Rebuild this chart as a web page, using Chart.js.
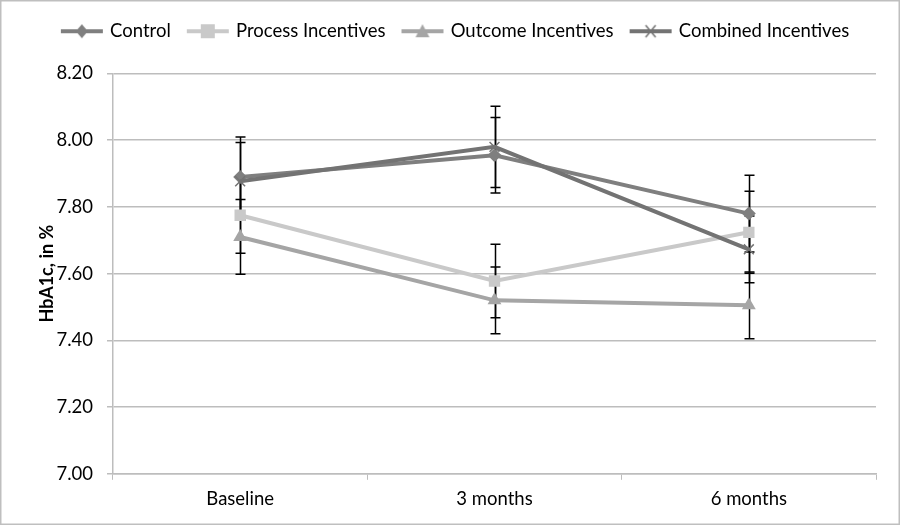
<!DOCTYPE html>
<html>
<head>
<meta charset="utf-8">
<script src="https://cdn.jsdelivr.net/npm/chart.js@4/dist/chart.umd.min.js"></script>
<style>
html,body{margin:0;padding:0;background:#fff;}
#wrap{width:900px;height:526px;position:relative;}
</style>
</head>
<body>
<div id="wrap"><canvas id="c" width="900" height="526"></canvas></div>
<script>
const categories = ['Baseline', '3 months', '6 months'];
const seriesNames = ['Control', 'Process Incentives', 'Outcome Incentives', 'Combined Incentives'];
const control = [7.89, 7.955, 7.78];
const controlErr = [0.12, 0.113, 0.115];
const processInc = [7.775, 7.578, 7.724];
const processErr = [0.114, 0.11, 0.123];
const outcomeInc = [7.71, 7.52, 7.505];
const outcomeErr = [0.112, 0.10, 0.10];
const combinedInc = [7.877, 7.98, 7.673];
const combinedErr = [0.116, 0.122, 0.10];
const yTicks = [7.00, 7.20, 7.40, 7.60, 7.80, 8.00, 8.20];

const FONT = 'Lato, "Open Sans", sans-serif';
const FS = 18.5;
const colors = ['#7f7f7f', '#c9c9c9', '#a5a5a5', '#737373'];
const styles = ['rectRot', 'rect', 'triangle', 'crossRot'];
const radii = [7, 8, 8, 7];

function legendIcon(i) {
  const w = 44, h = 18;
  const cv = document.createElement('canvas');
  cv.width = w; cv.height = h;
  const c = cv.getContext('2d');
  c.strokeStyle = colors[i];
  c.lineWidth = 4;
  c.beginPath(); c.moveTo(1, h / 2); c.lineTo(w - 1, h / 2); c.stroke();
  const cx = w / 2, cy = h / 2;
  c.fillStyle = colors[i];
  if (i === 0) {
    c.beginPath(); c.moveTo(cx, cy - 7); c.lineTo(cx + 6, cy); c.lineTo(cx, cy + 7); c.lineTo(cx - 6, cy); c.closePath(); c.fill();
  } else if (i === 1) {
    c.fillRect(cx - 7, cy - 7, 14, 14);
  } else if (i === 2) {
    c.beginPath(); c.moveTo(cx, cy - 7); c.lineTo(cx + 7, cy + 6); c.lineTo(cx - 7, cy + 6); c.closePath(); c.fill();
  } else {
    c.lineWidth = 1.5;
    c.beginPath(); c.moveTo(cx - 5, cy - 6); c.lineTo(cx + 5, cy + 6); c.moveTo(cx + 5, cy - 6); c.lineTo(cx - 5, cy + 6); c.stroke();
  }
  return cv;
}

const values = [control, processInc, outcomeInc, combinedInc];
const errs = [controlErr, processErr, outcomeErr, combinedErr];

const datasets = values.map((v, i) => ({
  label: seriesNames[i],
  data: v,
  errors: errs[i],
  borderColor: colors[i],
  backgroundColor: colors[i],
  borderWidth: 4,
  pointStyle: styles[i],
  pointRadius: radii[i],
  pointHoverRadius: radii[i],
  pointBorderWidth: i === 3 ? 1.5 : 0,
  pointBorderColor: colors[i],
  pointBackgroundColor: colors[i],
  legendIcon: legendIcon(i),
  tension: 0,
  order: 4 - i
}));

const bgPlugin = {
  id: 'bg',
  beforeDraw(chart) {
    const c = chart.ctx;
    c.save();
    c.fillStyle = '#fff';
    c.fillRect(0, 0, chart.width, chart.height);
    c.strokeStyle = '#bfbfbf';
    c.lineWidth = 1.5;
    c.strokeRect(0.75, 0.75, chart.width - 1.5, chart.height - 2.5);
    c.restore();
  }
};

const legendGap = {
  id: 'legendGap',
  beforeInit(chart) {
    const lg = chart.legend;
    if (!lg) return;
    const fit = lg.fit;
    lg.fit = function () { fit.call(this); this.height += 23; };
  }
};

const errPlugin = {
  id: 'errbars',
  beforeDatasetsDraw(chart) {
    const c = chart.ctx;
    const xs = chart.scales.x, ys = chart.scales.y;
    c.save();
    c.strokeStyle = '#000';
    c.lineWidth = 1.5;
    chart.data.datasets.forEach((ds) => {
      ds.data.forEach((v, j) => {
        const e = ds.errors[j];
        const x = Math.round(xs.getPixelForValue(j)) + 0.5;
        const yt = ys.getPixelForValue(v + e);
        const yb = ys.getPixelForValue(v - e);
        c.beginPath();
        c.moveTo(x, yt); c.lineTo(x, yb);
        c.moveTo(x - 5, yt); c.lineTo(x + 5, yt);
        c.moveTo(x - 5, yb); c.lineTo(x + 5, yb);
        c.stroke();
      });
    });
    c.restore();
  }
};

new Chart(document.getElementById('c'), {
  type: 'line',
  data: { labels: categories, datasets },
  options: {
    responsive: false,
    animation: false,
    devicePixelRatio: 1,
    layout: { padding: { left: 36, right: 24, top: 4, bottom: 8 } },
    plugins: {
      legend: {
        position: 'top',
        labels: {
          usePointStyle: true,
          pointStyleWidth: 38,
          padding: 18,
          color: '#000',
          font: { family: FONT, size: FS },
          generateLabels(chart) {
            return chart.data.datasets.map((ds, i) => ({
              text: ds.label,
              pointStyle: ds.legendIcon,
              fillStyle: ds.borderColor,
              strokeStyle: ds.borderColor,
              lineWidth: 0,
              hidden: false,
              datasetIndex: i,
              fontColor: '#000'
            }));
          }
        }
      },
      tooltip: { enabled: false }
    },
    scales: {
      x: {
        offset: true,
        grid: { display: true, drawOnChartArea: false, drawTicks: true, tickLength: 6, color: '#bdbdbd', offset: true },
        border: { display: true, color: '#bdbdbd', width: 1.5 },
        ticks: { color: '#000', font: { family: FONT, size: FS }, padding: 8 }
      },
      y: {
        min: 7.0,
        max: 8.2,
        afterBuildTicks(scale) { scale.ticks = yTicks.map(v => ({ value: v })); },
        afterFit(scale) { scale.width = 77; },
        grid: { color: '#bdbdbd', lineWidth: 1.5, tickLength: 6, drawTicks: true },
        border: { display: true, color: '#bdbdbd', width: 1.5 },
        ticks: { color: '#000', font: { family: FONT, size: FS }, padding: 14, callback: v => Number(v).toFixed(2) },
        title: { display: true, text: 'HbA1c, in %', color: '#000', font: { family: FONT, size: 18, weight: 'bold' }, padding: { top: 0, bottom: 0 } }
      }
    }
  },
  plugins: [bgPlugin, legendGap, errPlugin]
});
</script>
</body>
</html>
